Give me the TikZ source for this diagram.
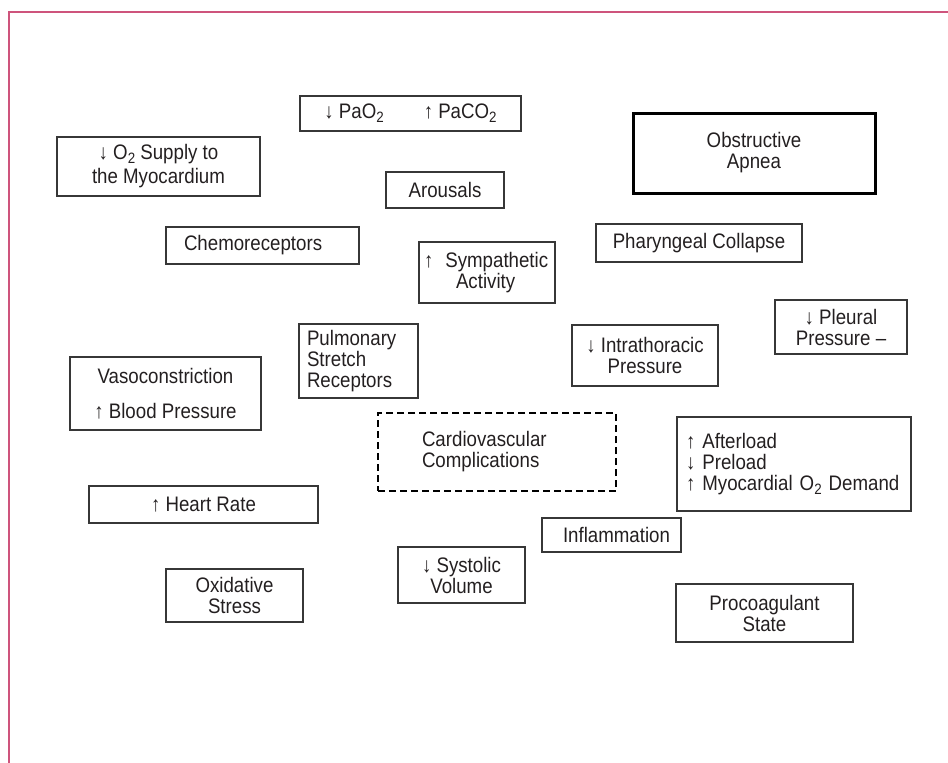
\documentclass[tikz,border=0pt]{standalone}
\usepackage{fontspec}
\setmainfont{Liberation Sans}[FakeStretch=0.89]
\usepackage{tikz}
\hyphenpenalty=10000
\exhyphenpenalty=10000
\definecolor{frameColor}{RGB}{206, 84, 124}
\definecolor{boxLine}{RGB}{55, 55, 55}
\definecolor{textColor}{RGB}{35, 31, 32}
\newcommand{\lowsub}[1]{\raisebox{-4pt}{\fontsize{15}{15}\selectfont #1}}
\tikzset{
    cv_box/.style={
        draw=boxLine,
        line width=1.3pt,
        text=textColor,
        align=center,
        inner sep=0pt,
        font=\fontsize{21}{21}\selectfont
    },
    box_size/.style 2 args={
        minimum width=#1pt,
        minimum height=#2pt
    },
    left_box/.style={
        cv_box,
        align=left
    },
    osa_box/.style={
        cv_box,
        draw=black,
        line width=3pt
    },
    target_box/.style={
        left_box,
        draw=black,
        line width=2.6pt,
        dash pattern=on 7pt off 4pt
    }
}

\begin{document}
\begin{tikzpicture}[x=1pt, y=-1pt]
    \useasboundingbox (0,0) rectangle (948,763);
    \draw[frameColor, line width=2pt] (8.5,763) -- (8.5,12) -- (948,12);

    % top row
    \node[cv_box, box_size={221}{35}] (gas) at (410.5,113.5)
        {↓ PaO\lowsub{2}\hspace{40pt}↑ PaCO\lowsub{2}};
    \node[cv_box, box_size={203}{59}] (o2supply) at (158.5,166.5)
        {↓ O\lowsub{2} Supply to\\[3pt]the Myocardium};
    \node[cv_box, box_size={118}{36}] (arousal) at (445,190) {Arousals};
    \node[osa_box, box_size={242}{80}] (osa) at (754,153) {Obstructive\\Apnea};

    % second row
    \node[left_box, box_size={193}{37}, text width=157pt, inner xsep=18pt] (chemo) at (262.5,245.5)
        {Chemoreceptors};
    \node[cv_box, box_size={206}{38}] (pharynx) at (699,243) {Pharyngeal Collapse};
    \node[left_box, box_size={136}{61}, text width=126pt, inner xsep=5pt] (sympath) at (487,272.5)
        {↑\hspace{12pt}Sympathetic\\\hspace*{32pt}Activity};
    \node[cv_box, box_size={132}{54}] (pleural) at (841,327) {↓ Pleural\\Pressure –};

    % middle
    \node[left_box, box_size={119}{74}, text width=103pt, inner xsep=8pt] (stretch) at (358.5,361)
        {Pulmonary\\Stretch\\Receptors};
    \node[cv_box, box_size={146}{61}] (thorax) at (645,355.5) {↓ Intrathoracic\\Pressure};
    \node[cv_box, box_size={191}{73}] (vaso) at (165.5,393.5)
        {Vasoconstriction\\[14pt]↑ Blood Pressure};
    \node[target_box, box_size={238}{78}, text width=150pt, inner xsep=44pt] (cvd) at (497,452)
        {Cardiovascular\\Complications};
    \node[left_box, box_size={234}{94}, text width=216pt, inner xsep=9pt] (load) at (794,464)
        {↑ Afterload\\↓ Preload\\↑ Myocardial O\lowsub{2} Demand};

    % bottom rows
    \node[cv_box, box_size={229}{37}] (hrate) at (203.5,504.5) {↑ Heart Rate};
    \node[left_box, box_size={139}{34}, text width=97pt, inner xsep=21pt] (inflam) at (611.5,535)
        {Inflammation};
    \node[cv_box, box_size={127}{56}] (systolic) at (461.5,575) {↓ Systolic\\Volume};
    \node[cv_box, box_size={137}{53}] (oxid) at (234.5,595.5) {Oxidative\\Stress};
    \node[cv_box, box_size={177}{58}] (procoag) at (764.5,613) {Procoagulant\\State};
\end{tikzpicture}
\end{document}
